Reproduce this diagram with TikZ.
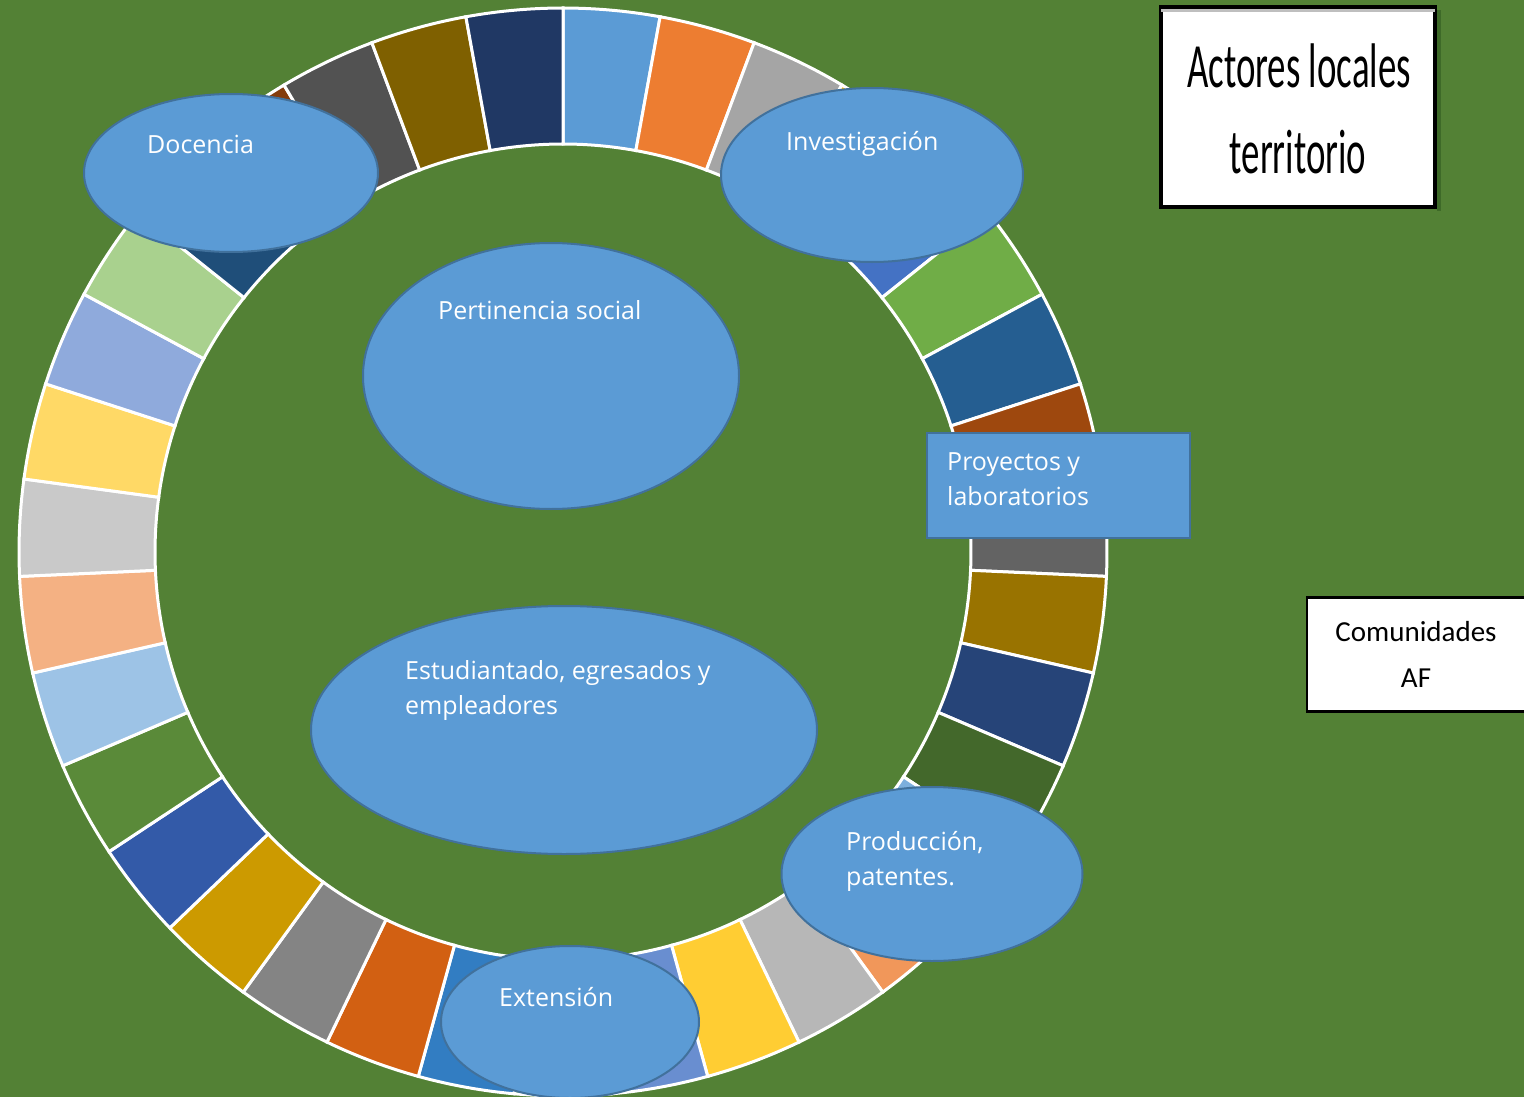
\documentclass[tikz,border=0pt]{standalone}
\usepackage{fontspec}
\usepackage{graphicx}
\usetikzlibrary{shapes.geometric}
\setmainfont{Open Sans}
\newfontfamily\calfont{Carlito}
\definecolor{bg}{HTML}{538135}
\definecolor{shapeblue}{HTML}{5B9BD5}
\definecolor{shapeedge}{HTML}{41719C}
\definecolor{shadowgreen}{HTML}{3E6A28}
\definecolor{stripgray}{HTML}{BFBFBF}
\tikzset{
  ellshape/.style={ellipse, fill=shapeblue, draw=shapeedge, line width=2, inner sep=0},
  rectshape/.style={rectangle, fill=shapeblue, draw=shapeedge, line width=2, inner sep=0},
  lbl/.style={anchor=base west, text=white, inner sep=0, font=\fontsize{25}{30}\selectfont},
  seg/.style={draw=white, line width=3, line join=miter},
  whitebox/.style={rectangle, fill=white, draw=black, inner sep=0},
}
\begin{document}
\begin{tikzpicture}[x=1pt,y=-1pt]
\useasboundingbox (0,0) rectangle (1524,1097);
\clip (0,0) rectangle (1524,1097);
\fill[bg] (0,0) rectangle (1524,1097);
% doughnut ring: 35 equal segments, clockwise from the top
\begin{scope}[shift={(563,552)}]
\foreach \h [count=\i from 0] in {5B9BD5,ED7D31,A5A5A5,FFC000,4472C4,70AD47,255E91,9E480E,636363,997300,264478,43682B,7CAFDD,F1975A,B7B7B7,FFCD33,698ED0,8CC168,327DC2,D26012,848484,CC9A00,335AA8,5A8A39,9DC3E6,F4B183,C9C9C9,FFD966,8FAADC,A9D18E,1F4E79,843C0C,525252,7F6000,203864}{
  \pgfmathsetmacro\aa{-90+\i*360/35}
  \pgfmathsetmacro\ab{-90+(\i+1)*360/35}
  \edef\tmp{\noexpand\definecolor{segc}{HTML}{\h}}\tmp
  \filldraw[seg, fill=segc] plot[domain=\aa:\ab, samples=16] (\x:544) -- plot[domain=\ab:\aa, samples=16] (\x:408) -- cycle;
}
\end{scope}
% shapes
\node[ellshape, minimum width=294, minimum height=158] (doc) at (231,173) {};
\node[ellshape, minimum width=302, minimum height=174] (inv) at (872,175) {};
\node[ellshape, minimum width=376, minimum height=266] (per) at (551,376) {};
\node[ellshape, minimum width=506, minimum height=248] (est) at (564,730) {};
\node[ellshape, minimum width=301, minimum height=174] (pro) at (932,874) {};
\node[ellshape, minimum width=258, minimum height=152] (ext) at (570,1022) {};
\node[rectshape, minimum width=263, minimum height=105] (lab) at (1058.5,485.5) {};
% labels
\node[lbl] (docT) at (147,154) {Docencia};
\node[lbl] (invT) at (786,150) {Investigación};
\node[lbl] (perT) at (438,319) {Pertinencia social};
\node[lbl] (estT1) at (405,679) {Estudiantado, egresados y};
\node[lbl] (estT2) at (405,714) {empleadores};
\node[lbl] (labT1) at (947,470) {Proyectos y};
\node[lbl] (labT2) at (947,505) {laboratorios};
\node[lbl] (proT1) at (846,850) {Producción,};
\node[lbl] (proT2) at (846,885) {patentes.};
\node[lbl] (extT) at (499,1006) {Extensión};
% title box
\fill[shadowgreen] (1437,10) rectangle (1441,211);
\node[whitebox, line width=4, minimum width=274, minimum height=200] (title) at (1298,107) {};
\fill[stripgray] (1161,9) rectangle (1435,12);
\node[anchor=base, inner sep=0] (t1) at (1299,88) {\scalebox{0.585}[1]{\calfont\fontsize{63}{63}\selectfont Actores locales}};
\node[anchor=base, inner sep=0] (t2) at (1298,174) {\scalebox{0.585}[1]{\calfont\fontsize{63}{63}\selectfont territorio}};
% comunidades box
\node[whitebox, line width=2.5, minimum width=230, minimum height=114] (com) at (1422,654.5) {};
\node[anchor=base, inner sep=0, font=\calfont\fontsize{29}{29}\selectfont] (comT1) at (1416,641) {Comunidades};
\node[anchor=base, inner sep=0, font=\calfont\fontsize{29}{29}\selectfont] (comT2) at (1416,687) {AF};
\end{tikzpicture}
\end{document}
